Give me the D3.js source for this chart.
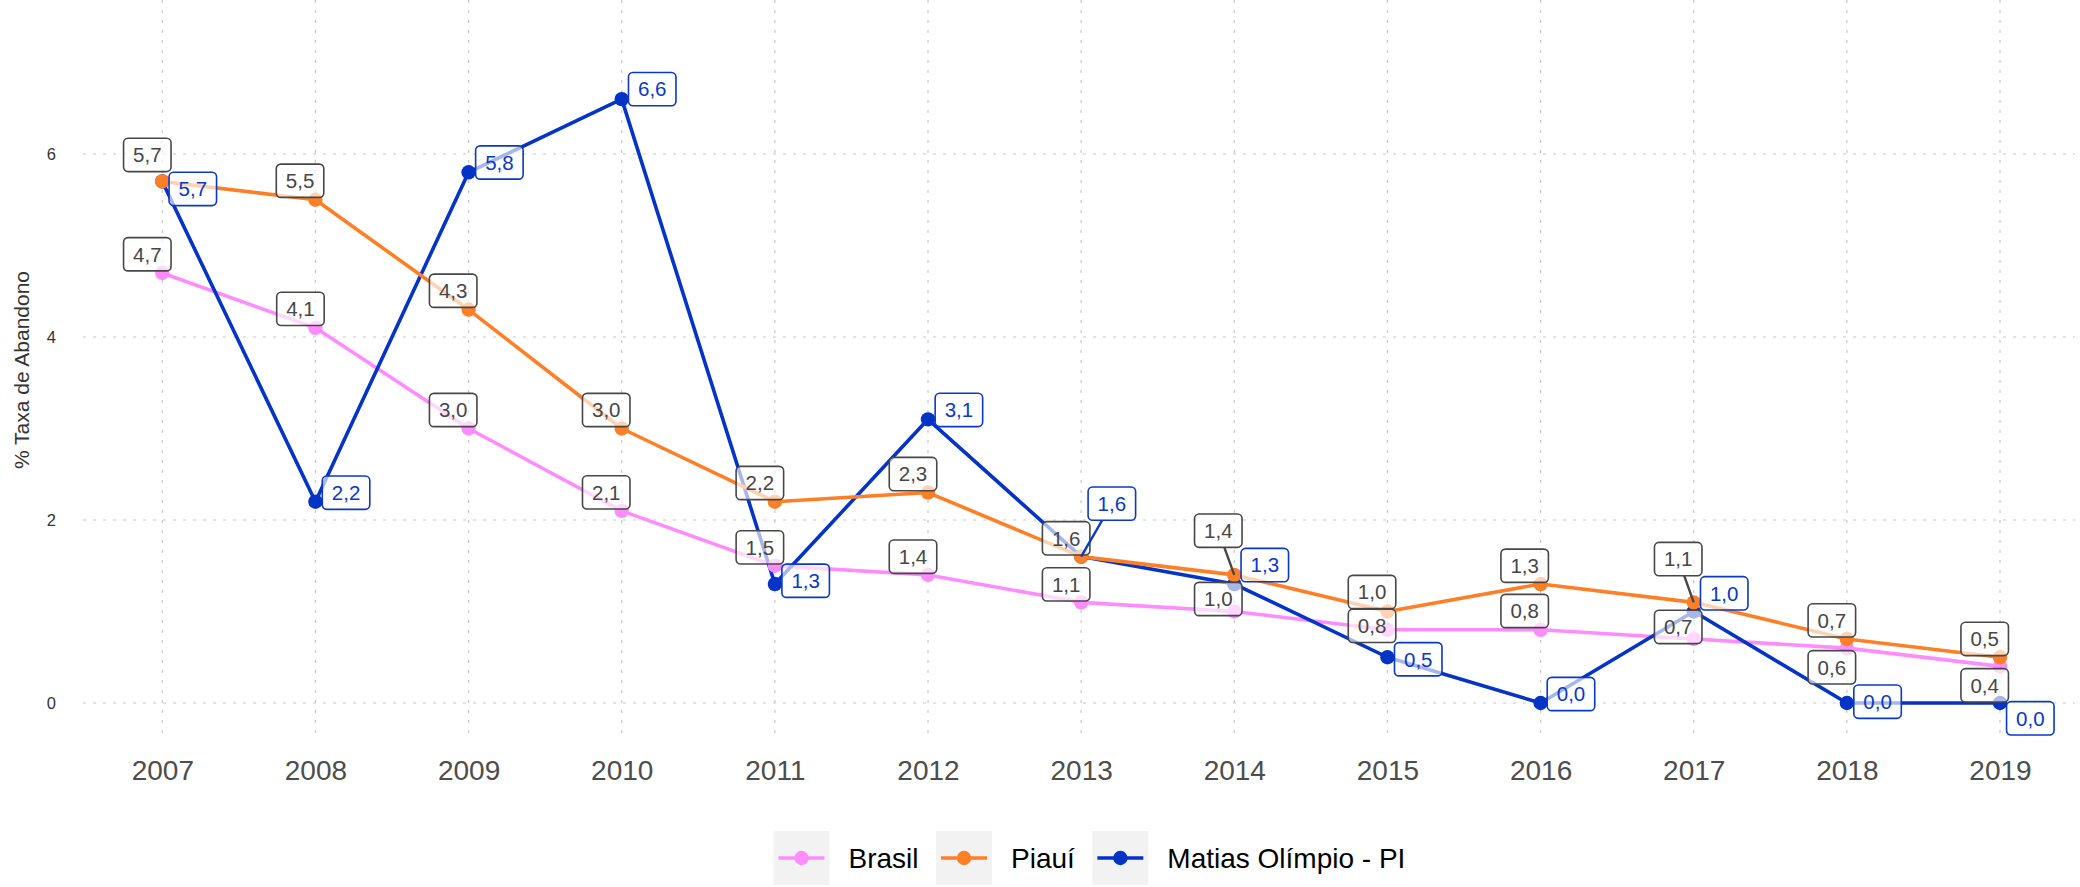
<!DOCTYPE html>
<html>
<head>
<meta charset="utf-8">
<script src="https://cdn.jsdelivr.net/npm/d3@7"></script>
<style>
  body { margin: 0; background: #ffffff; }
  svg { display: block; }
  text { font-family: "Liberation Sans", Arial, Helvetica, sans-serif; }
</style>
</head>
<body>
<svg id="chart" width="2080" height="887"></svg>
<script>
// ---- data ----
const years = [2007, 2008, 2009, 2010, 2011, 2012, 2013, 2014, 2015, 2016, 2017, 2018, 2019];
const brasil = [4.7, 4.1, 3.0, 2.1, 1.5, 1.4, 1.1, 1.0, 0.8, 0.8, 0.7, 0.6, 0.4];
const piaui  = [5.7, 5.5, 4.3, 3.0, 2.2, 2.3, 1.6, 1.4, 1.0, 1.3, 1.1, 0.7, 0.5];
const matias = [5.7, 2.2, 5.8, 6.6, 1.3, 3.1, 1.6, 1.3, 0.5, 0.0, 1.0, 0.0, 0.0];
const seriesNames = ["Brasil", "Piauí", "Matias Olímpio - PI"];
const yTicks = [0, 2, 4, 6];
const yTitle = "% Taxa de Abandono";

// ---- label placement (pixel offsets of each label box centre from its point) ----
const nudgeBrasil = [[-15,-18.7],[-15,-19],[-15.4,-18.5],[-15.5,-18.5],[-15,-18.4],[-15,-18.2],[-15,-18],
                     [-16,-12.5],[-15.4,-4],[-15.9,-18.8],[-15.5,-12],[-15,19.2],[-15.3,18.9]];
const nudgePiaui  = [[-15,-26.5],[-15.4,-19],[-15.4,-18.8],[-15.5,-18.5],[-15,-18.7],[-15,-18.5],[-15,-18.3],
                     [-16,-44.2],[-15.4,-19.5],[-15.9,-18.3],[-15.5,-43.3],[-15,-18.6],[-15.3,-18.3]];
const nudgeMatias = [[30.5,7.5],[30.6,-9],[30.8,-9.8],[30.5,-10],[30.8,-3.3],[30.9,-9.4],[30.7,-53],
                     [30.5,-19],[30.8,2],[30.4,-9],[30.5,-18.2],[30.7,-1.3],[30.3,15.3]];
const segBrasil = [];
const segPiaui  = [2014, 2017];
const segMatias = [2013];

// ---- styles ----
const colors = { "Brasil": "#ff8cff", "Piauí": "#ff7f27", "Matias Olímpio - PI": "#0433c8" };
const grayText = "#474747";
const blueText = "#0a38c8";

// legend / label order
const series = [
  { name: seriesNames[0], values: brasil, nudge: nudgeBrasil, seg: segBrasil, labelColor: grayText },
  { name: seriesNames[1], values: piaui,  nudge: nudgePiaui,  seg: segPiaui,  labelColor: grayText },
  { name: seriesNames[2], values: matias, nudge: nudgeMatias, seg: segMatias, labelColor: blueText }
];
// lines and points are stacked alphabetically by series name
const drawOrder = series.slice().sort((a, b) => d3.ascending(a.name, b.name));

const fmt = d3.formatLocale({ decimal: ",", thousands: ".", grouping: [3], currency: ["R$", ""] }).format(".1f");

// ---- layout ----
const svg = d3.select("#chart");
const panel = { left: 83, right: 2075, top: 0, bottom: 740 };
const x = d3.scaleLinear().domain([2007, 2019]).range([162.3, 2000]);
const y = d3.scaleLinear().domain([0, 6]).range([703, 154]);

// grid
const grid = svg.append("g").attr("class", "grid")
  .attr("stroke", "#c9c9c9").attr("stroke-width", 1.2).attr("stroke-dasharray", "3 7");
grid.selectAll("line.h").data(yTicks).join("line").attr("class", "h")
  .attr("x1", panel.left).attr("x2", panel.right)
  .attr("y1", d => y(d)).attr("y2", d => y(d));
grid.selectAll("line.v").data(years).join("line").attr("class", "v")
  .attr("x1", d => x(d)).attr("x2", d => x(d))
  .attr("y1", panel.top).attr("y2", panel.bottom);

// axes
const xAxis = svg.append("g").attr("transform", `translate(0,${panel.bottom})`)
  .call(d3.axisBottom(x).tickValues(years).tickFormat(d3.format("d")).tickSize(0).tickPadding(20));
xAxis.select(".domain").remove();
xAxis.selectAll("text").attr("font-size", 28).attr("fill", "#4d4d4d")
  .style("font-family", '"Liberation Sans", Arial, sans-serif');

const yAxis = svg.append("g").attr("transform", `translate(${panel.left},0)`)
  .call(d3.axisLeft(y).tickValues(yTicks).tickFormat(d3.format("d")).tickSize(0).tickPadding(27));
yAxis.select(".domain").remove();
yAxis.selectAll("text").attr("font-size", 16.5).attr("fill", "#333333")
  .style("font-family", '"Liberation Sans", Arial, sans-serif');

svg.append("text")
  .attr("transform", `translate(22,${(panel.top + panel.bottom) / 2}) rotate(-90)`)
  .attr("text-anchor", "middle").attr("dy", "0.35em")
  .attr("font-size", 21).attr("fill", "#333333")
  .text(yTitle);

// lines
const line = d3.line().x((d, i) => x(years[i])).y(d => y(d));
svg.append("g").selectAll("path").data(drawOrder).join("path")
  .attr("d", s => line(s.values))
  .attr("fill", "none")
  .attr("stroke", s => colors[s.name])
  .attr("stroke-width", 3.6)
  .attr("stroke-linejoin", "round");

// points
const pts = svg.append("g");
drawOrder.forEach(s => {
  pts.append("g").selectAll("circle").data(s.values).join("circle")
    .attr("cx", (d, i) => x(years[i])).attr("cy", d => y(d))
    .attr("r", 7.2).attr("fill", colors[s.name]);
});

// labels
const boxH = 33.3, padX = 9.5, fontSize = 20.5;
function drawLabels(s) {
  const g = svg.append("g");
  s.values.forEach((v, i) => {
    const px = x(years[i]), py = y(v);
    const cx = px + s.nudge[i][0], cy = py + s.nudge[i][1];
    const lg = g.append("g").attr("transform", `translate(${cx},${cy})`);
    const t = lg.append("text").attr("text-anchor", "middle").attr("dy", "0.36em")
      .attr("font-size", fontSize).attr("fill", s.labelColor).text(fmt(v));
    const w = t.node().getComputedTextLength() + 2 * padX;
    if (s.seg.includes(years[i])) {
      // segment from point to the box edge
      const dx = cx - px, dy = cy - py;
      const tx = Math.abs(dx) > 0 ? (w / 2) / Math.abs(dx) : Infinity;
      const ty = Math.abs(dy) > 0 ? (boxH / 2) / Math.abs(dy) : Infinity;
      const f = 1 - Math.min(tx, ty);
      g.insert("line", ":first-child")
        .attr("x1", px).attr("y1", py)
        .attr("x2", px + dx * f).attr("y2", py + dy * f)
        .attr("stroke", s.labelColor).attr("stroke-width", 2.4);
    }
    lg.insert("rect", "text")
      .attr("x", -w / 2).attr("y", -boxH / 2).attr("width", w).attr("height", boxH)
      .attr("rx", 4.5).attr("ry", 4.5)
      .attr("fill", "#ffffff").attr("fill-opacity", 0.65)
      .attr("stroke", s.labelColor).attr("stroke-width", 1.6);
  });
}
series.forEach(drawLabels);

// legend
const legend = svg.append("g");
let lx = 773.5;
const keyW = 56, keyH = 54, keyY = 831;
series.forEach(s => {
  const k = legend.append("g").attr("transform", `translate(${lx},${keyY})`);
  k.append("rect").attr("width", keyW).attr("height", keyH).attr("fill", "#f2f2f2");
  k.append("line").attr("x1", 5).attr("x2", keyW - 5).attr("y1", keyH / 2).attr("y2", keyH / 2)
    .attr("stroke", colors[s.name]).attr("stroke-width", 3.6);
  k.append("circle").attr("cx", keyW / 2).attr("cy", keyH / 2).attr("r", 7.2).attr("fill", colors[s.name]);
  const t = k.append("text").attr("x", keyW + 19).attr("y", keyH / 2).attr("dy", "0.36em")
    .attr("font-size", 28).attr("fill", "#000000").text(s.name);
  lx += keyW + 19 + t.node().getComputedTextLength() + 17.5;
});
</script>
</body>
</html>
